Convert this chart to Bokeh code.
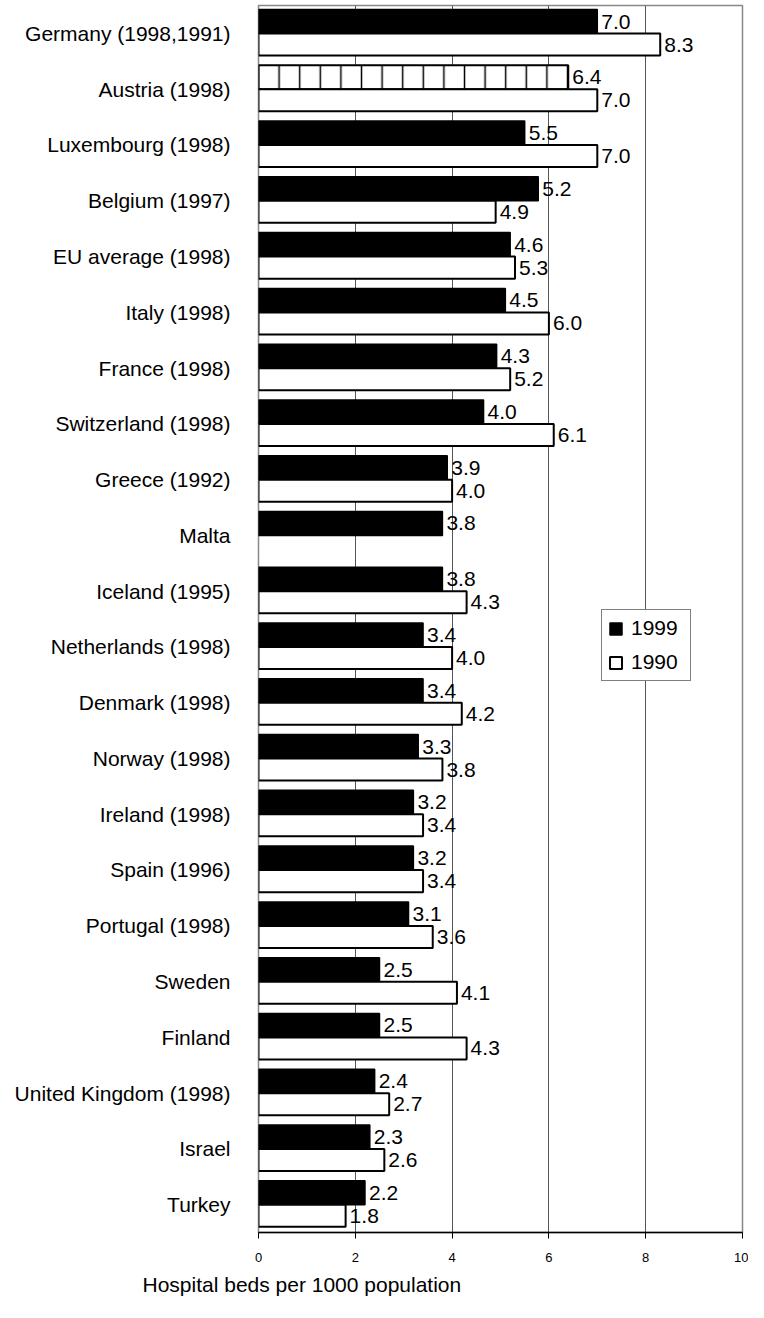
from bokeh.plotting import figure
from bokeh.models import (FactorRange, ColumnDataSource, Legend, LegendItem,
                          Title, FixedTicker, Range1d)
from bokeh.transform import dodge
from bokeh.core.properties import value
from bokeh.embed import file_html
from bokeh.resources import INLINE

countries = ["Germany (1998,1991)", "Austria (1998)", "Luxembourg (1998)", "Belgium (1997)",
             "EU average (1998)", "Italy (1998)", "France (1998)", "Switzerland (1998)",
             "Greece (1992)", "Malta", "Iceland (1995)", "Netherlands (1998)", "Denmark (1998)",
             "Norway (1998)", "Ireland (1998)", "Spain (1996)", "Portugal (1998)", "Sweden",
             "Finland", "United Kingdom (1998)", "Israel", "Turkey"]
# bar lengths as drawn in the picture
beds_1999 = [7.0, 6.4, 5.5, 5.78, 5.2, 5.1, 4.92, 4.65, 3.9, 3.8, 3.8, 3.4, 3.4, 3.3, 3.2,
             3.2, 3.1, 2.5, 2.5, 2.4, 2.3, 2.2]
beds_1990 = [8.3, 7.0, 7.0, 4.9, 5.3, 6.0, 5.2, 6.1, 4.0, None, 4.3, 4.0, 4.2, 3.8, 3.4,
             3.4, 3.6, 4.1, 4.3, 2.7, 2.6, 1.8]
# value labels as printed in the picture
labels_1999 = ["7.0", "6.4", "5.5", "5.2", "4.6", "4.5", "4.3", "4.0", "3.9", "3.8", "3.8",
               "3.4", "3.4", "3.3", "3.2", "3.2", "3.1", "2.5", "2.5", "2.4", "2.3", "2.2"]
labels_1990 = ["8.3", "7.0", "7.0", "4.9", "5.3", "6.0", "5.2", "6.1", "4.0", None, "4.3",
               "4.0", "4.2", "3.8", "3.4", "3.4", "3.6", "4.1", "4.3", "2.7", "2.6", "1.8"]
hatched_1999 = ["Austria (1998)"]
series_names = ["1999", "1990"]
x_ticks = [0, 2, 4, 6, 8, 10]
x_title = "Hospital beds per 1000 population"

FONT = "Liberation Sans"

def make_src(vals, labels, keep):
    c, v, t = [], [], []
    for name, val, lab in zip(countries, vals, labels):
        if val is None or not keep(name):
            continue
        c.append(name); v.append(val); t.append(lab)
    return ColumnDataSource(dict(country=c, v=v, t=t))

src99 = make_src(beds_1999, labels_1999, lambda n: n not in hatched_1999)
src99h = make_src(beds_1999, labels_1999, lambda n: n in hatched_1999)
src99all = make_src(beds_1999, labels_1999, lambda n: True)
src90 = make_src(beds_1990, labels_1990, lambda n: True)

p = figure(y_range=FactorRange(factors=list(reversed(countries))),
           x_range=Range1d(0, 10), width=748, height=1302,
           output_backend="svg", toolbar_location=None,
           min_border_left=258, min_border_right=6, min_border_top=5,
           min_border_bottom=70)

off99, off90 = 0.213, -0.2
r99 = p.hbar(y=dodge("country", off99, range=p.y_range), right="v", left=0, height=0.43,
             fill_color="black", line_color="black", line_width=1.5, source=src99)
p.hbar(y=dodge("country", off99, range=p.y_range), right="v", left=0, height=0.43,
       fill_color="white", line_color="black", line_width=2, hatch_pattern="|",
       hatch_color="black", hatch_scale=20.6, hatch_weight=1.5, source=src99h)
r90 = p.hbar(y=dodge("country", off90, range=p.y_range), right="v", left=0, height=0.395,
             fill_color="white", line_color="black", line_width=2, source=src90)

for src, off in ((src99all, off99), (src90, off90)):
    p.text(x="v", y=dodge("country", off, range=p.y_range), text="t", x_offset=4,
           text_baseline="middle", text_align="left", text_font=value(FONT),
           text_font_size="21px", text_color="black", source=src)

p.xaxis.ticker = FixedTicker(ticks=x_ticks)
p.xaxis.major_label_text_font = FONT
p.xaxis.major_label_text_font_size = "13px"
p.xaxis.major_label_text_color = "black"
p.xaxis.axis_line_color = "black"
p.xaxis.axis_line_width = 1.5
p.xaxis.major_tick_out = 6
p.xaxis.major_tick_in = 0
p.xaxis.minor_tick_out = 0
p.xaxis.minor_tick_in = 0
p.xaxis.major_tick_line_color = "black"
p.xaxis.major_label_standoff = 14

p.yaxis.axis_line_color = None
p.yaxis.major_tick_out = 0
p.yaxis.major_tick_in = 0
p.yaxis.major_label_text_font = FONT
p.yaxis.major_label_text_font_size = "21px"
p.yaxis.major_label_text_color = "black"
p.yaxis.major_label_standoff = 28

p.ygrid.grid_line_color = None
p.xgrid.ticker = FixedTicker(ticks=x_ticks)
p.xgrid.grid_line_color = "#555555"
p.xgrid.grid_line_width = 1

p.outline_line_color = "#888888"
p.outline_line_width = 1.5

legend = Legend(items=[LegendItem(label=series_names[0], renderers=[r99]),
                       LegendItem(label=series_names[1], renderers=[r90])],
                location=(343, 551), glyph_width=15, glyph_height=15,
                label_text_font=FONT, label_text_font_size="21px",
                label_text_color="black",
                label_standoff=8, label_width=53, padding=6, spacing=10, margin=0,
                border_line_color="black", border_line_width=1,
                background_fill_color="white", background_fill_alpha=1)
p.add_layout(legend)

p.add_layout(Title(text=x_title, align="left", offset=-116, text_font=FONT,
                   text_font_size="21px", text_font_style="normal", text_color="black",
                   standoff=12), "below")

open("out.html", "w").write(file_html(p, INLINE))
